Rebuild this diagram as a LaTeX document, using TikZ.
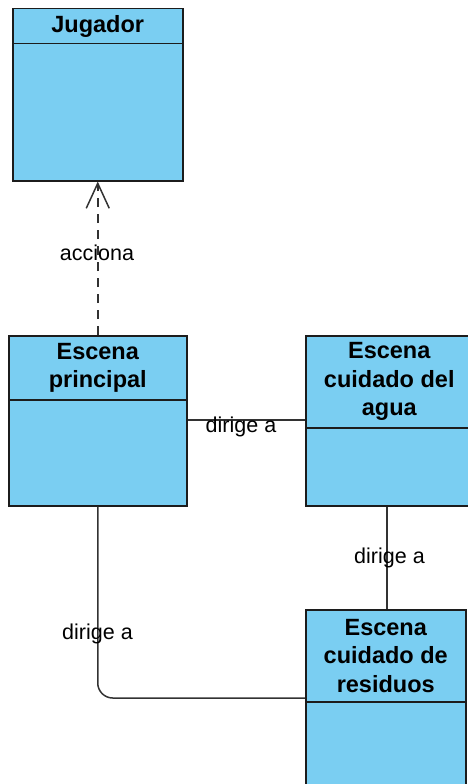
\documentclass[tikz,border=0pt]{standalone}
\usepackage{fontspec}
\setmainfont{Liberation Sans}
\usetikzlibrary{arrows.meta}
\definecolor{boxc}{RGB}{122,206,242}
\definecolor{bordc}{RGB}{28,28,28}
\definecolor{linec}{RGB}{50,50,50}
\newcommand\ttlfnt{\bfseries\fontsize{23.5}{28.5}\selectfont}
\newcommand\lblfnt{\fontsize{21.5}{25}\selectfont}
\tikzset{
  hdr/.style={draw=bordc, fill=boxc, line width=1.5pt, inner sep=0pt, anchor=north west, align=center, font=\ttlfnt, text=black},
  bodybox/.style={draw=bordc, fill=boxc, line width=1.5pt, inner sep=0pt, anchor=north west},
  conn/.style={draw=linec, line width=1.5pt},
  lbl/.style={font=\lblfnt, inner sep=0pt, anchor=base, text=black}
}
\begin{document}
\begin{tikzpicture}[x=1pt,y=-1pt]
\useasboundingbox (0,0) rectangle (468,784);
% Jugador
\node[bodybox, minimum width=170pt, minimum height=137pt] (jugB) at (12,43) {};
\node[hdr, minimum width=170pt, minimum height=35pt] (jugH) at (12,8) {Jugador};
% Escena principal
\node[bodybox, minimum width=178pt, minimum height=106pt] (prinB) at (8,399) {};
\node[hdr, minimum width=178pt, minimum height=64pt] (prinH) at (8,335) {Escena\\principal};
% Escena cuidado del agua
\node[bodybox, minimum width=167pt, minimum height=78pt] (agB) at (305,427) {};
\node[hdr, minimum width=167pt, minimum height=92pt] (agH) at (305,335) {Escena\\cuidado del\\agua};
% Escena cuidado de residuos
\node[bodybox, minimum width=160pt, minimum height=100pt] (resB) at (305,701) {};
\node[hdr, minimum width=160pt, minimum height=92pt] (resH) at (305,609) {Escena\\cuidado de\\residuos};
% connectors
\draw[conn, dash pattern=on 9pt off 7pt, -{Straight Barb[length=25pt,width=23pt]}] (prinH.north) -- (jugB.south);
\node[lbl] (l1) at (97,260) {acciona};
\draw[conn] (prinB.east |- 0,420) -- (agH.west |- 0,420);
\node[lbl] (l2) at (241,432) {dirige a};
\draw[conn] (agB.south -| 387,0) -- (resH.north -| 387,0);
\node[lbl] (l3) at (389.5,563) {dirige a};
\draw[conn, rounded corners=15pt] (prinB.south) |- (resH.west |- 0,698);
\node[lbl] (l4) at (97.5,639) {dirige a};
\end{tikzpicture}
\end{document}
